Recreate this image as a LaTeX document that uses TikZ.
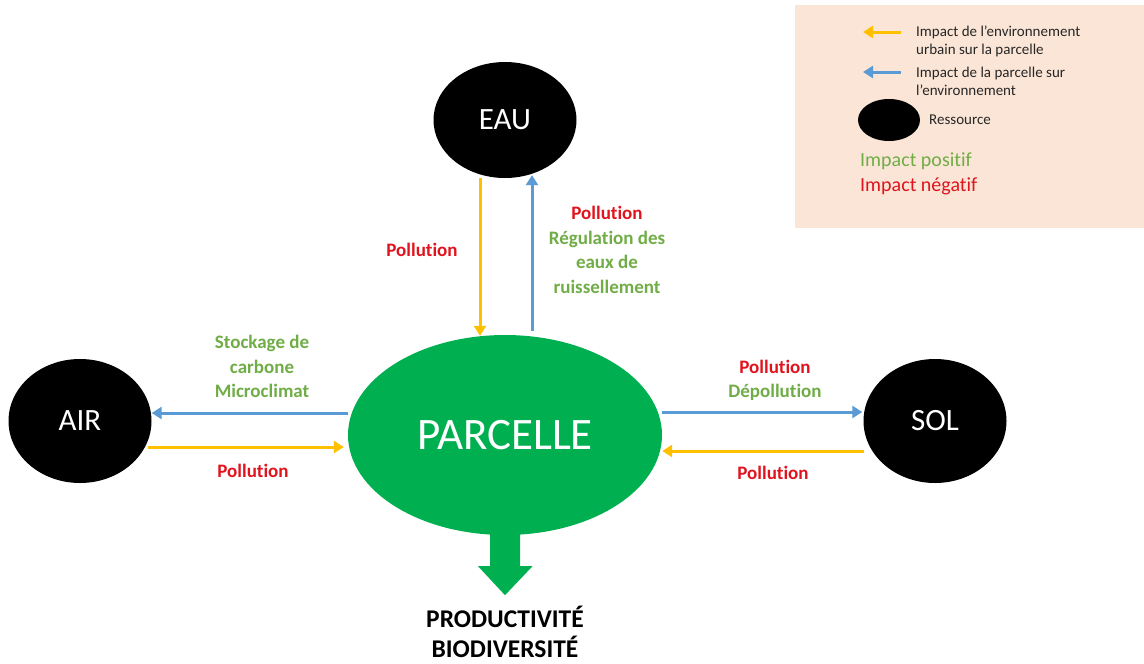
\documentclass[tikz,border=0pt]{standalone}
\usepackage{fontspec}
\setmainfont{Carlito}[Ligatures={NoCommon,NoRare,NoContextual}]
\usetikzlibrary{arrows.meta,shapes.geometric,calc}
\definecolor{cyel}{HTML}{FFC000}
\definecolor{cblue}{HTML}{5B9BD5}
\definecolor{cgreen}{HTML}{00B050}
\definecolor{tgreen}{HTML}{70AD47}
\definecolor{tred}{HTML}{E0141E}
\definecolor{legbg}{HTML}{FBE5D6}
\definecolor{legtxt}{HTML}{262626}
\tikzset{
  res/.style={ellipse, fill=black, text=white, inner sep=0pt,
    minimum width=143pt, minimum height=120pt, font=\fontsize{31}{33}\selectfont},
  parc/.style={ellipse, fill=cgreen, text=white, inner sep=0pt,
    minimum width=314pt, minimum height=200pt, font=\fontsize{45}{48}\selectfont},
  yarr/.style={draw=cyel, line width=3pt, -{Triangle[length=10pt,width=12pt]}},
  barr/.style={draw=cblue, line width=3pt, -{Triangle[length=10pt,width=12pt]}},
  lbl/.style={align=center, font=\bfseries\fontsize{19}{24.5}\selectfont},
  red/.style={lbl, text=tred},
  grn/.style={lbl, text=tgreen},
  legt/.style={anchor=west, align=left, text=legtxt, font=\fontsize{15}{18}\selectfont, inner sep=0pt},
}
\begin{document}
\begin{tikzpicture}[x=1pt,y=-1pt]
\useasboundingbox[fill=white] (0,0) rectangle (1144,664);

% legend
\node[fill=legbg, minimum width=349pt, minimum height=223pt, inner sep=0pt, anchor=north west] (leg) at (795,5) {};
\coordinate (ly1) at (901,32);
\coordinate (ly2) at (863,32);
\coordinate (lb1) at (901,72);
\coordinate (lb2) at (863,72);
\draw[yarr] (ly1) -- (ly2);
\draw[barr] (lb1) -- (lb2);
\node[legt] (lt1) at (916,41) {Impact de l’environnement\\urbain sur la parcelle};
\node[legt] (lt2) at (916,81) {Impact de la parcelle sur\\l’environnement};
\node[ellipse, fill=black, minimum width=62pt, minimum height=42pt, inner sep=0pt] (lres) at (889,120) {};
\node[legt] (lt3) at (929,120) {Ressource};
\node[legt, text=tgreen, font=\fontsize{20}{24}\selectfont] (lpos) at (860,161) {Impact positif};
\node[legt, text=tred, font=\fontsize{20}{24}\selectfont] (lneg) at (860,186) {Impact négatif};

% resources
\node[res, minimum height=116pt] (eau) at (505,120) {EAU};
\node[parc] (parc) at (505,435) {PARCELLE};
\node[res, minimum height=124pt] (air) at (80,421) {AIR};
\node[res, minimum height=124pt] (sol) at (935,421) {SOL};

% connectors EAU
\draw[yarr] ([xshift=-25pt]eau.south) -- ([xshift=-25pt,yshift=-1pt]parc.north);
\draw[barr, shorten >=-3pt] ([xshift=27pt,yshift=4pt]parc.north) -- ([xshift=27pt]parc.north |- eau.south);
% AIR
\draw[barr] ([yshift=22pt]parc.west) -- ([yshift=22pt]parc.west -| air.east);
\draw[yarr] ([yshift=-26pt,xshift=-4pt]air.east) -- ([yshift=-26pt,xshift=-4pt]air.east -| parc.west);
% SOL
\draw[barr] ([yshift=23pt]parc.east) -- ([yshift=23pt,xshift=-1pt]parc.east -| sol.west);
\draw[yarr] ([yshift=-30pt,xshift=1pt]sol.west) -- ([yshift=-30pt]sol.west -| parc.east);

% labels
\node[red] (l1) at (422,250) {Pollution};
\node[lbl] (l2) at (607,250) {\textcolor{tred}{Pollution}\\\textcolor{tgreen}{Régulation des}\\\textcolor{tgreen}{eaux de}\\\textcolor{tgreen}{ruissellement}};
\node[grn] (l3) at (262,366.5) {Stockage de\\carbone\\Microclimat};
\node[red] (l4) at (253,471) {Pollution};
\node[lbl] (l5) at (775,380.5) {\textcolor{tred}{Pollution}\\\textcolor{tgreen}{Dépollution}};
\node[red] (l6) at (773,473) {Pollution};

% output arrow
\node[align=center, font=\bfseries\fontsize{25.5}{30}\selectfont, inner sep=0pt] (out) at (505,632) {PRODUCTIVITÉ\\BIODIVERSITÉ};
\coordinate (tip) at ($(parc.south)+(0,60)$);
\fill[cgreen] ([xshift=-15pt,yshift=6pt]parc.south) -- ++(0,37) -- ++(-12,0) -- (tip) -- ++(27.5,-29) -- ++(-12.5,0) -- ++(0,-37) -- cycle;
\end{tikzpicture}
\end{document}
